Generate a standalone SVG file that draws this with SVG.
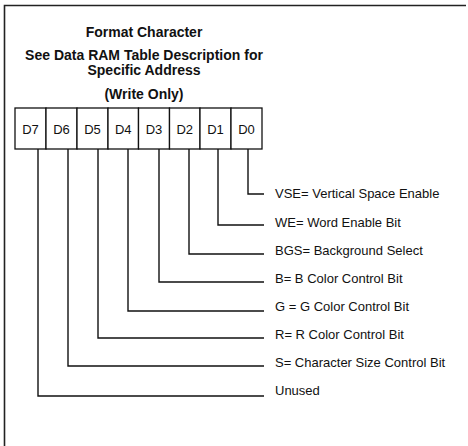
<svg xmlns="http://www.w3.org/2000/svg" width="468" height="446" viewBox="0 0 468 446">
<style>
.t{font-family:"Liberation Sans",Arial,sans-serif;font-size:14px;font-weight:bold;fill:#111;text-anchor:middle}
.c{font-family:"Liberation Sans",Arial,sans-serif;font-size:13px;fill:#111;text-anchor:middle}
.l{font-family:"Liberation Sans",Arial,sans-serif;font-size:13px;fill:#111}
.cell{fill:#fff;stroke:#111;stroke-width:1.3}
.w{fill:none;stroke:#111;stroke-width:1.4}
.f{fill:none;stroke:#222;stroke-width:1.6}
</style>
<rect width="468" height="446" fill="#fff"/>
<g id="frame"><path class="f" d="M4.5,446 V5.5 H466"/></g>
<g id="title">
<text class="t" x="144" y="37">Format Character</text>
<text class="t" x="144" y="60">See Data RAM Table Description for</text>
<text class="t" x="144" y="75">Specific Address</text>
<text class="t" x="144" y="99">(Write Only)</text>
</g>
<g id="register">
<g id="D7"><rect class="cell" x="15" y="108" width="31" height="41"/><text class="c" x="30.5" y="134">D7</text></g>
<g id="D6"><rect class="cell" x="46" y="108" width="31" height="41"/><text class="c" x="61.5" y="134">D6</text></g>
<g id="D5"><rect class="cell" x="77" y="108" width="31" height="41"/><text class="c" x="92.5" y="134">D5</text></g>
<g id="D4"><rect class="cell" x="108" y="108" width="30.5" height="41"/><text class="c" x="123.3" y="134">D4</text></g>
<g id="D3"><rect class="cell" x="138.5" y="108" width="31" height="41"/><text class="c" x="154" y="134">D3</text></g>
<g id="D2"><rect class="cell" x="169.5" y="108" width="30.5" height="41"/><text class="c" x="184.8" y="134">D2</text></g>
<g id="D1"><rect class="cell" x="200" y="108" width="31" height="41"/><text class="c" x="215.5" y="134">D1</text></g>
<g id="D0"><rect class="cell" x="231" y="108" width="31" height="41"/><text class="c" x="246.5" y="134">D0</text></g>
</g>
<g id="connectors">
<path class="w" d="M248,149 V194 H264"/>
<path class="w" d="M218,149 V225 H264"/>
<path class="w" d="M189,149 V254 H264"/>
<path class="w" d="M159,149 V282 H264"/>
<path class="w" d="M128,149 V311 H264"/>
<path class="w" d="M98,149 V338 H264"/>
<path class="w" d="M68,149 V366 H264"/>
<path class="w" d="M38,149 V396 H264"/>
</g>
<g id="labels">
<text class="l" x="275" y="198">VSE= Vertical Space Enable</text>
<text class="l" x="275" y="227">WE= Word Enable Bit</text>
<text class="l" x="275" y="255">BGS= Background Select</text>
<text class="l" x="275" y="283">B= B Color Control Bit</text>
<text class="l" x="275" y="311">G = G Color Control Bit</text>
<text class="l" x="275" y="339">R= R Color Control Bit</text>
<text class="l" x="275" y="367">S= Character Size Control Bit</text>
<text class="l" x="275" y="395">Unused</text>
</g>
</svg>
